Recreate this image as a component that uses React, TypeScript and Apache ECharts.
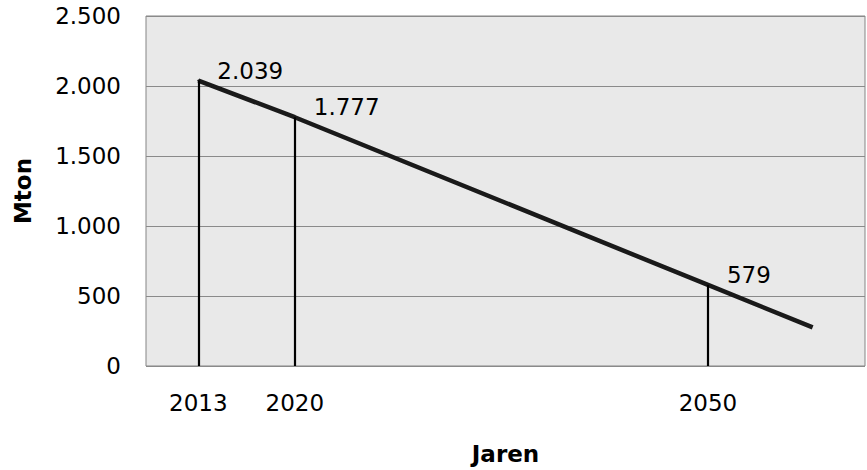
import React, { useEffect, useRef } from "react";
import * as echarts from "echarts";

// Data
const years = [2013, 2020, 2050];
const emissionsMton = [2039, 1777, 579];
// end point of the drawn line (no label)
const lineEndYear = 2057.6;
const lineEndValue = 276;
const yTicks = [0, 500, 1000, 1500, 2000, 2500];

const FONT = "DejaVu Sans";

const nl = (v: number) => String(v).replace(/\B(?=(\d{3})+(?!\d))/g, ".");

export default function App() {
  const ref = useRef<HTMLDivElement>(null);

  useEffect(() => {
    if (!ref.current) return;
    const chart = echarts.init(ref.current, undefined, { renderer: "svg" });

    const lineData: any[] = years.map((y, i) => ({
      value: [y, emissionsMton[i]],
      label: { show: true },
    }));
    lineData.push({
      value: [lineEndYear, lineEndValue],
      symbol: "none",
      label: { show: false },
    });

    const dropLines = years.map((y, i) => [
      { coord: [y, 0] },
      { coord: [y, emissionsMton[i]] },
    ]);

    chart.setOption({
      animation: false,
      backgroundColor: "#ffffff",
      textStyle: { fontFamily: FONT },
      grid: {
        left: 146,
        right: 2,
        top: 16,
        bottom: 99,
        show: true,
        backgroundColor: "#e9e9e9",
        borderColor: "#858585",
        borderWidth: 1,
      },
      xAxis: {
        type: "value",
        min: 2009.2,
        max: 2061.4,
        name: "Jaren",
        nameLocation: "middle",
        nameGap: 76,
        nameTextStyle: { fontFamily: FONT, fontSize: 23, fontWeight: "bold", color: "#000" },
        axisLine: { show: false },
        axisTick: { show: false },
        splitLine: { show: false },
        axisLabel: {
          customValues: years,
          formatter: (v: number) => String(v),
          fontFamily: FONT,
          fontSize: 23,
          color: "#000",
          margin: 25,
        },
      },
      yAxis: {
        type: "value",
        min: yTicks[0],
        max: yTicks[yTicks.length - 1],
        interval: 500,
        name: "Mton",
        nameLocation: "middle",
        nameGap: 112,
        nameRotate: 90,
        nameTextStyle: { fontFamily: FONT, fontSize: 23, fontWeight: "bold", color: "#000" },
        axisLine: { show: false },
        axisTick: { show: false },
        splitLine: { show: true, lineStyle: { color: "#8a8a8a", width: 1 } },
        axisLabel: {
          formatter: (v: number) => nl(v),
          fontFamily: FONT,
          fontSize: 23,
          color: "#000",
          margin: 25,
        },
      },
      series: [
        {
          type: "line",
          data: lineData,
          showSymbol: true,
          symbol: "circle",
          symbolSize: 2,
          itemStyle: { color: "#1a1a1a" },
          lineStyle: { color: "#1a1a1a", width: 4.5 },
          label: {
            show: true,
            position: "right",
            distance: 5,
            fontFamily: FONT,
            fontSize: 23,
            color: "#000",
            formatter: (p: any) => nl(p.value[1]),
          },
          labelLayout: { dx: 13, dy: -10, hideOverlap: false },
          markLine: {
            silent: true,
            symbol: "none",
            label: { show: false },
            lineStyle: { color: "#000", width: 2.2, type: "solid" },
            data: dropLines,
          },
          z: 3,
        },
      ],
    });

    return () => chart.dispose();
  }, []);

  return (
    <div
      ref={ref}
      style={{ position: "fixed", left: 0, top: 0, width: 867, height: 470 }}
    />
  );
}
